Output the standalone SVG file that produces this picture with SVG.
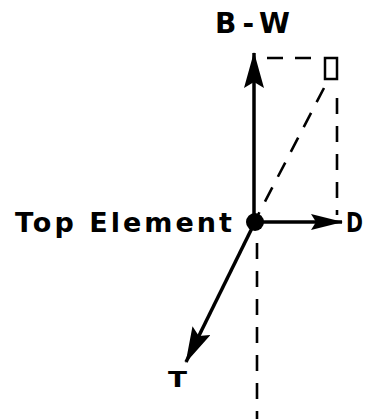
<svg xmlns="http://www.w3.org/2000/svg" width="375" height="419" viewBox="0 0 375 419">
<style>
.lbl{font-family:"DejaVu Sans","Liberation Sans",Arial,sans-serif;font-weight:bold;fill:#000}
.vec{stroke:#000;stroke-width:3.5;fill:none}
.dash{stroke:#000;stroke-width:2.6;fill:none;stroke-dasharray:16 12}
</style>
<defs>
<marker id="ah" viewBox="0 0 36 20" refX="35" refY="10" markerWidth="36" markerHeight="20" markerUnits="userSpaceOnUse" orient="auto">
<path d="M0,0 L36,10 L0,20 L6,10 Z" fill="#000"/>
</marker>
<marker id="ahs" viewBox="0 0 32 16" refX="31" refY="8" markerWidth="32" markerHeight="16" markerUnits="userSpaceOnUse" orient="auto">
<path d="M0,0 L32,8 L0,16 L5,8 Z" fill="#000"/>
</marker>
</defs>
<rect width="375" height="419" fill="#fff"/>
<g id="connectors">
<line class="dash" x1="267" y1="58" x2="320" y2="58"/>
<line class="dash" x1="337" y1="98" x2="337" y2="215"/>
<line class="dash" x1="324" y1="88" x2="258" y2="215"/>
<line class="dash" x1="257" y1="243" x2="257" y2="419"/>
<line class="vec" x1="254" y1="222" x2="254" y2="53" marker-end="url(#ah)"/>
<line class="vec" x1="258" y1="222" x2="342" y2="222" marker-end="url(#ahs)"/>
<line class="vec" x1="255" y1="222" x2="186" y2="362" marker-end="url(#ah)"/>
</g>
<g id="resultant">
<rect x="325" y="58" width="12" height="21" fill="none" stroke="#000" stroke-width="2.5"/>
</g>
<g id="top-element">
<circle cx="255" cy="222" r="9" fill="#000"/>
<text class="lbl" x="15" y="232" font-size="27" textLength="217" lengthAdjust="spacing">Top Element</text>
</g>
<g id="bw">
<text class="lbl" x="215" y="33" font-size="28" textLength="75" lengthAdjust="spacing">B-W</text>
</g>
<g id="d">
<text class="lbl" x="346" y="232" font-size="26" textLength="17" lengthAdjust="spacingAndGlyphs">D</text>
</g>
<g id="t">
<text class="lbl" x="168" y="387" font-size="21" textLength="19" lengthAdjust="spacingAndGlyphs">T</text>
</g>
</svg>
